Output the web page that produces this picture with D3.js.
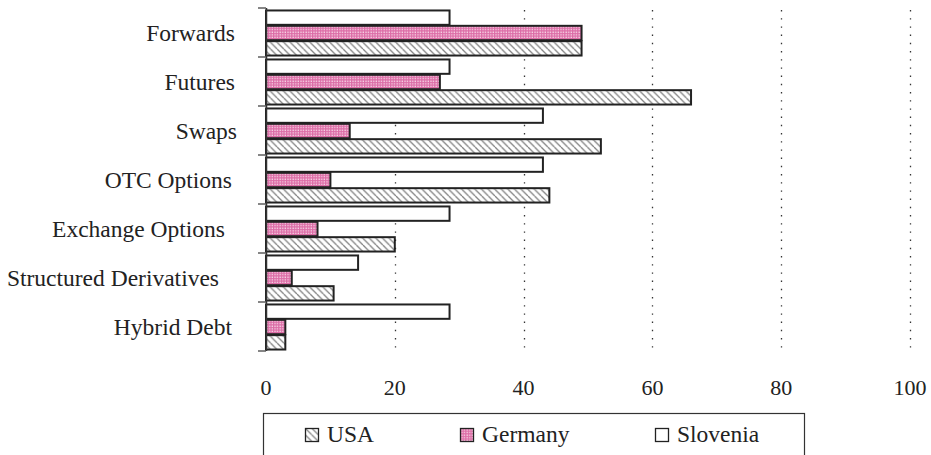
<!DOCTYPE html>
<html>
<head>
<meta charset="utf-8">
<script src="https://cdn.jsdelivr.net/npm/d3@7"></script>
<style>
  body { margin: 0; background: #fff; }
  svg { display: block; }
</style>
</head>
<body>
<div id="chart"></div>
<script>
// data (percent)
var categories = ['Forwards', 'Futures', 'Swaps', 'OTC Options', 'Exchange Options', 'Structured Derivatives', 'Hybrid Debt'];
var series = ['Slovenia', 'Germany', 'USA'];   // top to bottom inside each group
var legend_order = ['USA', 'Germany', 'Slovenia'];
var usa = [49, 66, 52, 44, 20, 10.5, 3];
var germany = [49, 27, 13, 10, 8, 4, 3];
var slovenia = [28.5, 28.5, 43, 43, 28.5, 14.3, 28.5];
var x_ticks = [0, 20, 40, 60, 80, 100];

var values = { 'USA': usa, 'Germany': germany, 'Slovenia': slovenia };

var width = 931;
var height = 455;
var font = '"Liberation Serif", "DejaVu Serif", serif';

var plot = ({ left: 266, right: 910, top: 8, bottom: 351 });

// labels in the original are not quite flush right
var label_right = {
    'Forwards': 235, 'Futures': 235, 'Swaps': 237, 'OTC Options': 232,
    'Exchange Options': 225, 'Structured Derivatives': 219, 'Hybrid Debt': 232
};

var svg = d3.select('#chart')
    .append('svg')
    .attr('width', width)
    .attr('height', height);

var defs = svg.append('defs');

// pink dotted fill for Germany
var dots = defs.append('pattern')
    .attr('id', 'pat_germany')
    .attr('patternUnits', 'userSpaceOnUse')
    .attr('width', 2.6)
    .attr('height', 2.6);
dots.append('rect').attr('width', 2.6).attr('height', 2.6).attr('fill', '#dc6ca6');
dots.append('rect').attr('x', 1.3).attr('y', 1.3).attr('width', 1.3).attr('height', 1.3).attr('fill', '#f8dcea');

// backslash hatch for USA
var hatch = defs.append('pattern')
    .attr('id', 'pat_usa')
    .attr('patternUnits', 'userSpaceOnUse')
    .attr('width', 6.6)
    .attr('height', 6.6);
hatch.append('rect').attr('width', 6.6).attr('height', 6.6).attr('fill', '#fff');
hatch.append('path')
    .attr('d', 'M0,0 L6.6,6.6 M-3.3,3.3 L0,6.6 M3.3,-3.3 L6.6,0')
    .attr('stroke', '#808080')
    .attr('stroke-width', 1.3);

var fills = {
    'USA': 'url(#pat_usa)',
    'Germany': 'url(#pat_germany)',
    'Slovenia': '#ffffff'
};

var x = d3.scaleLinear()
    .domain([0, 100])
    .range([plot.left, plot.right]);

var y = d3.scaleBand()
    .domain(categories)
    .range([plot.top, plot.bottom])
    .paddingInner(0.06)
    .paddingOuter(0.03);

var y_inner = d3.scaleBand()
    .domain(series)
    .range([0, y.bandwidth()])
    .padding(0);

var step = (plot.bottom - plot.top) / categories.length;

// dotted grid lines
svg.append('g')
    .attr('id', 'grid_markings_vert')
    .selectAll('line').data(x_ticks.filter(function(d) { return d > 0; })).enter()
    .append('line')
    .attr('x1', function(d) { return Math.round(x(d)) + 0.5; })
    .attr('x2', function(d) { return Math.round(x(d)) + 0.5; })
    .attr('y1', plot.top + 2)
    .attr('y2', plot.bottom)
    .attr('stroke', '#333')
    .attr('stroke-width', 1.3)
    .attr('stroke-dasharray', '1.4,6.8');

// bars
var groups = svg.append('g')
    .selectAll('g').data(categories).enter()
    .append('g')
    .attr('transform', function(d) { return 'translate(0,' + y(d) + ')'; });

groups.selectAll('rect')
    .data(function(c, i) {
        return series.map(function(s) { return { key: s, value: values[s][i] }; });
    })
    .enter()
    .append('rect')
    .attr('x', x(0))
    .attr('y', function(d) { return y_inner(d.key) + 1; })
    .attr('width', function(d) { return x(d.value) - x(0); })
    .attr('height', y_inner.bandwidth() - 1)
    .attr('fill', function(d) { return fills[d.key]; })
    .attr('stroke', '#222')
    .attr('stroke-width', 2);

// category axis (ticks between groups)
var boundaries = d3.range(categories.length + 1).map(function(i) { return plot.top + i * step; });
svg.append('line')
    .attr('x1', plot.left + 0.5)
    .attr('x2', plot.left + 0.5)
    .attr('y1', plot.top)
    .attr('y2', plot.bottom)
    .attr('stroke', '#333')
    .attr('stroke-width', 1.5);
svg.append('g')
    .selectAll('line').data(boundaries).enter()
    .append('line')
    .attr('x1', plot.left - 8)
    .attr('x2', plot.left)
    .attr('y1', function(d) { return d; })
    .attr('y2', function(d) { return d; })
    .attr('stroke', '#444')
    .attr('stroke-width', 1.3);

svg.append('g')
    .attr('class', 'cat_labels')
    .selectAll('text').data(categories).enter()
    .append('text')
    .attr('x', function(d) { return label_right[d]; })
    .attr('y', function(d) { return y(d) + y.bandwidth() / 2; })
    .attr('dy', '0.35em')
    .attr('text-anchor', 'end')
    .text(function(d) { return d; });

// value axis labels, no axis line
svg.append('g')
    .attr('class', 'tick_labels')
    .selectAll('text').data(x_ticks).enter()
    .append('text')
    .attr('x', function(d) { return x(d); })
    .attr('y', 395)
    .attr('text-anchor', 'middle')
    .text(function(d) { return d; });

// legend
var legend = svg.append('g').attr('id', 'legend');
legend.append('rect')
    .attr('x', 263.5)
    .attr('y', 413.5)
    .attr('width', 541)
    .attr('height', 60)
    .attr('fill', 'none')
    .attr('stroke', '#333')
    .attr('stroke-width', 1.2);

var legend_x = { 'USA': 305, 'Germany': 460, 'Slovenia': 655 };

var items = legend.selectAll('g.item').data(legend_order).enter()
    .append('g')
    .attr('class', 'item')
    .attr('transform', function(d) { return 'translate(' + legend_x[d] + ',428)'; });
items.append('rect')
    .attr('x', 0.5)
    .attr('y', 0.5)
    .attr('width', 13)
    .attr('height', 13)
    .attr('fill', function(d) { return fills[d]; })
    .attr('stroke', '#222')
    .attr('stroke-width', 1.3);
items.append('text')
    .attr('x', 22)
    .attr('y', 14)
    .text(function(d) { return d; });

svg.selectAll('text')
    .style('font-family', font)
    .style('font-size', '23.5px')
    .style('fill', '#222');
svg.selectAll('.tick_labels text').style('font-size', '22px');
</script>
</body>
</html>
